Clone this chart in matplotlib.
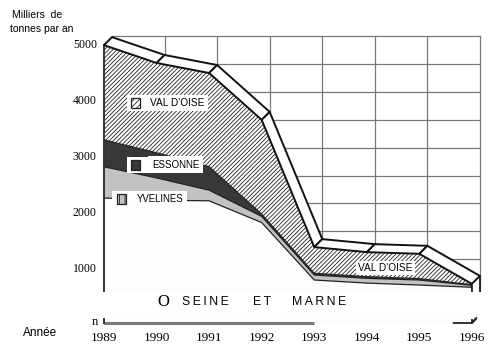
import numpy as np
import matplotlib
matplotlib.use('Agg')
import matplotlib.pyplot as plt
from matplotlib.patches import Polygon, Rectangle

# Tonnages par departement (milliers de tonnes par an)
years = [1989, 1990, 1991, 1992, 1993, 1994, 1995, 1996]
seine_marne = [2240, 2200, 2190, 1800, 770, 715, 680, 640]
yvelines = [560, 400, 190, 110, 90, 85, 90, 35]
essonne = [480, 450, 420, 40, 30, 30, 25, 10]
val_oise = [1700, 1610, 1680, 1690, 470, 440, 445, 15]
ytick_vals = [1000, 2000, 3000, 4000, 5000]

# depth of the fake 3D effect, in data units (about 8 px each way)
DX = 0.152
DY = 143

plt.rcParams['hatch.linewidth'] = 0.6
SANS = ['Liberation Sans', 'DejaVu Sans']
SERIF = ['Liberation Serif', 'DejaVu Serif']
HATCH = '////////'

x = np.array(years, dtype=float)
l1 = np.array(seine_marne, dtype=float)
l2 = l1 + np.array(yvelines)
l3 = l2 + np.array(essonne)
l4 = l3 + np.array(val_oise)

fig = plt.figure(figsize=(5.01, 3.62), dpi=100)
ax = fig.add_axes([94 / 501, 36 / 362, 401 / 501, 306 / 362])
ax.set_xlim(1988.81, 1996.438)
ax.set_ylim(-54, 5430)
for s in ax.spines.values():
    s.set_visible(False)

# back wall grid
for xv in years:
    ax.plot([xv + DX, xv + DX], [DY, 5000 + DY], color='#787878', lw=0.9, zorder=1)
for v in range(500, 5001, 500):
    ax.plot([years[0] + DX, years[-1] + DX], [v + DY, v + DY], color='#787878', lw=0.9, zorder=1)

# stacked layers
ax.fill_between(x, 0, l1, facecolor='#fdfdfd', lw=0, zorder=2)
ax.fill_between(x, l1, l2, facecolor='#c2c2c2', lw=0, zorder=2)
ax.fill_between(x, l2, l3, facecolor='#383838', lw=0, zorder=2)
ax.fill_between(x, l3, l4, facecolor='white', edgecolor='#222222', hatch=HATCH, lw=0, zorder=2)
for lay in (l1, l2, l3):
    ax.plot(x, lay, color='#222222', lw=0.9, zorder=2.5)
ax.plot([x[0], x[0]], [0, l4[0]], color='#333333', lw=1.4, zorder=2.5)

# top face of the stack
for i in range(len(x) - 1):
    pts = [(x[i], l4[i]), (x[i + 1], l4[i + 1]),
           (x[i + 1] + DX, l4[i + 1] + DY), (x[i] + DX, l4[i] + DY)]
    ax.add_patch(Polygon(pts, closed=True, facecolor='white', edgecolor='#111111',
                         lw=1.4, joinstyle='round', zorder=3))
# right end face
ax.add_patch(Polygon([(x[-1], 0), (x[-1], l4[-1]), (x[-1] + DX, l4[-1] + DY), (x[-1] + DX, DY)],
                     closed=True, facecolor='white', edgecolor='#111111', lw=1.2, zorder=3))

# legend labels inside the chart
ax.text(1989.875, 3943, "VAL D'OISE", fontsize=7.3, family=SANS, va='center',
        bbox=dict(facecolor='white', edgecolor='none', pad=2.5), zorder=5)
ax.add_patch(Rectangle((1989.43, 3943 - 150), 0.44, 300, facecolor='white', lw=0, zorder=4.9))
ax.add_patch(Rectangle((1989.51, 3943 - 85), 0.17, 170, facecolor='white', edgecolor='#222222',
                       hatch='//////', lw=0.9, zorder=5.5))

ax.text(1989.913, 2832, 'ESSONNE', fontsize=7, family=SANS, va='center',
        bbox=dict(facecolor='white', edgecolor='none', pad=2.5), zorder=5)
ax.add_patch(Rectangle((1989.43, 2832 - 150), 0.44, 300, facecolor='white', lw=0, zorder=4.9))
ax.add_patch(Rectangle((1989.51, 2832 - 85), 0.17, 170, facecolor='#383838', edgecolor='#222222',
                       lw=0.9, zorder=5.5))

ax.text(1989.628, 2222, 'YVELINES', fontsize=6.9, family=SANS, va='center',
        bbox=dict(facecolor='white', edgecolor='none', pad=2), zorder=5)
ax.add_patch(Rectangle((1989.16, 2222 - 140), 0.44, 280, facecolor='white', lw=0, zorder=4.9))
ax.add_patch(Rectangle((1989.24, 2222 - 85), 0.17, 170, facecolor='#c2c2c2', edgecolor='#222222',
                       hatch='|||', lw=0.9, zorder=5.5))

ax.text(1993.832, 986, "VAL D'OISE", fontsize=7.3, family=SANS, va='center',
        bbox=dict(facecolor='white', edgecolor='none', pad=1.5), zorder=5)

# bottom band with the Seine et Marne label
ax.add_patch(Rectangle((1988.85, 72), 7.5, 483, facecolor='white', edgecolor='none', zorder=6, clip_on=False))
ax.text(1990.12, 376, 'O', fontsize=12, family=SERIF, ha='center', va='center', zorder=7)
for word, xw in [('S\u2009E\u2009I\u2009N\u2009E', 1990.484), ('E\u2009T', 1991.834),
                 ('M\u2009A\u2009R\u2009N\u2009E', 1992.576)]:
    ax.text(xw, 376, word, fontsize=8.8, family=SANS, ha='left', va='center', zorder=7)

# pieces of the floor line
ax.plot([x[0], 1993], [0, 0], color='#7a7a7a', lw=2.2, zorder=7, solid_capstyle='butt')
ax.plot([x[0], x[0]], [0, 72], color='#333333', lw=1.4, zorder=7)
ax.plot([1995.65, x[-1], x[-1] + 0.08], [0, 0, 90], color='#222222', lw=1.3, zorder=7)
ax.text(1988.83, 20, 'n', fontsize=9, family=SERIF, ha='center', va='center')

ax.set_xticks(years)
ax.set_xticklabels([str(y) for y in years], family=SERIF, fontsize=9.5)
ax.set_yticks(ytick_vals)
ax.set_yticklabels([str(v) for v in ytick_vals], family=SERIF, fontsize=8.5)
ax.tick_params(axis='x', length=0, pad=4)
ax.tick_params(axis='y', length=0, pad=-2)

fig.text(12 / 501, 1 - 15 / 362, 'Milliers  de', fontsize=7.5, family=SANS, va='center')
fig.text(10 / 501, 1 - 29 / 362, 'tonnes par an', fontsize=7.5, family=SANS, va='center')
fig.text(23 / 501, 1 - 333 / 362, 'Année', fontsize=8.5, family=SANS, va='center')

fig.savefig('out.png', dpi=100)
